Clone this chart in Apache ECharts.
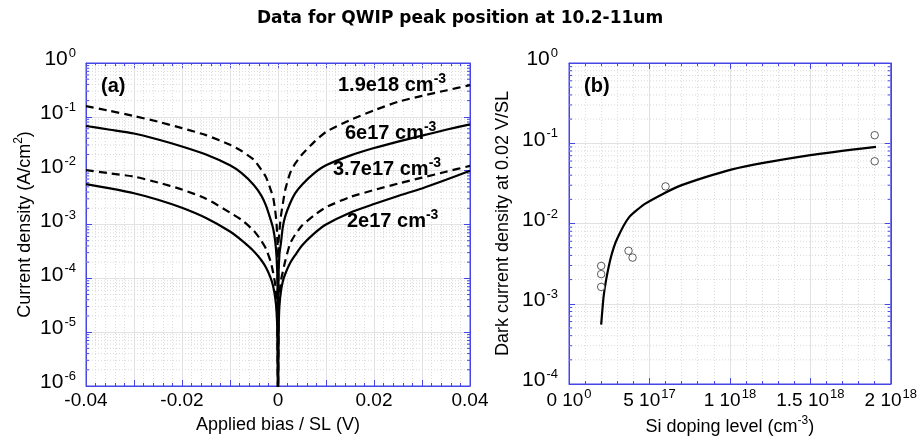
<!DOCTYPE html>
<html>
<head>
<meta charset="utf-8">
<script src="https://cdn.jsdelivr.net/npm/echarts@6/dist/echarts.min.js"></script>
<style>
  html, body { margin: 0; padding: 0; background: #fff; }
  #chart { width: 920px; height: 444px; }
</style>
</head>
<body>
<div id="chart"></div>
<script>
// (a) applied bias per SL (V), shared by the four J-V curves
const biasV = [-0.04, -0.035, -0.03, -0.025, -0.02, -0.015, -0.01, -0.0075, -0.005, -0.0035, -0.0025, -0.0015, -0.001, -0.0006, -0.0003, -0.0001, 0,
  0.0001, 0.0003, 0.0006, 0.001, 0.0015, 0.0025, 0.0035, 0.005, 0.0075, 0.01, 0.015, 0.02, 0.025, 0.03, 0.035, 0.04]
// log10 of current density (A/cm2); the 0 V point sits just under the axis floor
const logJ19e18 = [-0.80, -0.89, -0.985, -1.09, -1.21, -1.34, -1.52, -1.64, -1.80, -1.98, -2.12, -2.36, -2.50, -2.73, -2.98, -3.4, -6.3,
  -3.35, -3.12, -2.85, -2.62, -2.36, -2.05, -1.88, -1.70, -1.47, -1.28, -1.06, -0.88, -0.72, -0.61, -0.51, -0.41]
const logJ6e17 = [-1.17, -1.24, -1.31, -1.42, -1.55, -1.70, -1.90, -2.05, -2.27, -2.46, -2.65, -2.92, -3.08, -3.30, -3.60, -4.1, -6.3,
  -4.0, -3.55, -3.35, -3.05, -2.85, -2.61, -2.43, -2.26, -2.05, -1.90, -1.72, -1.58, -1.46, -1.35, -1.24, -1.14]
const logJ37e17 = [-1.99, -2.05, -2.11, -2.22, -2.35, -2.52, -2.78, -2.92, -3.12, -3.30, -3.45, -3.70, -3.90, -4.1, -4.4, -4.9, -6.3,
  -4.8, -4.35, -4.05, -3.88, -3.68, -3.36, -3.20, -3.02, -2.83, -2.68, -2.49, -2.36, -2.24, -2.13, -2.02, -1.91]
const logJ2e17 = [-2.25, -2.33, -2.42, -2.54, -2.69, -2.88, -3.13, -3.30, -3.50, -3.66, -3.80, -4.00, -4.15, -4.35, -4.62, -5.1, -6.3,
  -5.1, -4.5, -4.25, -4.06, -3.92, -3.72, -3.58, -3.39, -3.17, -3.00, -2.78, -2.62, -2.47, -2.33, -2.17, -2.00]

// (b) dark current at 0.02 V/SL vs Si doping
const fitDoping = [2.0e17, 2.15e17, 2.31e17, 2.62e17, 3.0e17, 3.74e17, 4.77e17, 6.81e17, 1.008e18, 1.5e18, 1.908e18]
const fitJ = [5.5e-4, 1.23e-3, 2.0e-3, 3.9e-3, 6.5e-3, 1.2e-2, 1.78e-2, 2.9e-2, 4.7e-2, 7.1e-2, 9.0e-2]
const measDoping = [2e17, 2e17, 2e17, 3.7e17, 3.95e17, 6e17, 1.9e18, 1.9e18]
const measJ = [2.96e-3, 2.34e-3, 1.62e-3, 4.57e-3, 3.76e-3, 2.9e-2, 0.126, 0.0596]

const FONT = 'Liberation Sans, Arial, sans-serif'
const BLUE = '#4646e6'
const supRich = {
  b: { fontSize: 21, fontFamily: FONT, color: '#000', lineHeight: 22, verticalAlign: 'bottom' },
  s: { fontSize: 13, fontFamily: FONT, color: '#000', lineHeight: 14, verticalAlign: 'bottom', padding: [0, 0, 10, 1] }
}
const nameRich = {
  n: { fontSize: 18, fontFamily: FONT, color: '#000', lineHeight: 20, verticalAlign: 'bottom' },
  s: { fontSize: 12, fontFamily: FONT, color: '#000', lineHeight: 13, verticalAlign: 'bottom', padding: [0, 0, 9, 0] }
}

function pair (xs, ys, isLog) {
  return xs.map((x, i) => [x, isLog ? Math.pow(10, ys[i]) : ys[i]])
}

function logLabel (v) {
  const e = Math.round(Math.log10(v))
  return '{b|10}{s|' + e + '}'
}

// minor grid values 2..9 per decade for the log axes (decoration only)
function minorDecades (lo, hi, x) {
  const out = []
  for (let e = lo; e < hi; e++) {
    for (let k = 2; k <= 9; k++) out.push([x, k * Math.pow(10, e)])
  }
  return out
}

function minorLogRender (params, api) {
  const cs = params.coordSys
  const y = api.coord([api.value(0), api.value(1)])[1]
  return {
    type: 'group',
    children: [
      { type: 'line', shape: { x1: cs.x, y1: y, x2: cs.x + cs.width, y2: y }, style: { stroke: '#d9d9d9', lineWidth: 1, lineDash: [1, 2] } },
      { type: 'line', shape: { x1: cs.x, y1: y, x2: cs.x + 3, y2: y }, style: { stroke: BLUE, lineWidth: 1 } },
      { type: 'line', shape: { x1: cs.x + cs.width - 3, y1: y, x2: cs.x + cs.width, y2: y }, style: { stroke: BLUE, lineWidth: 1 } }
    ]
  }
}

function frameAxis (extra) {
  return Object.assign({
    axisLine: { show: true, onZero: false, lineStyle: { color: BLUE, width: 1 } },
    axisTick: { show: true, inside: true, length: 6, lineStyle: { color: BLUE } },
    minorTick: { show: false },
    splitLine: { show: false },
    axisLabel: { show: false }
  }, extra)
}

function annRich () {
  return {
    b: { fontSize: 20, fontWeight: 'bold', fontFamily: FONT, color: '#000', lineHeight: 21, verticalAlign: 'bottom' },
    s: { fontSize: 14, fontWeight: 'bold', fontFamily: FONT, color: '#000', lineHeight: 15, verticalAlign: 'bottom', padding: [0, 0, 9, 0] }
  }
}

const majorSplit = { show: true, lineStyle: { color: '#e2e2e2', width: 1 } }
const minorSplit = { show: true, lineStyle: { color: '#dddddd', width: 1, type: [1, 2] } }
const curveLine = (dashed) => ({ color: '#000', width: 2.2, type: dashed ? [8, 5] : 'solid' })

const chart = echarts.init(document.getElementById('chart'), null, { renderer: 'canvas' })

const option = {
  animation: false,
  backgroundColor: '#ffffff',
  title: {
    text: 'Data for QWIP peak position at 10.2-11um',
    left: 'center',
    top: 5,
    textStyle: { fontFamily: 'DejaVu Sans', fontSize: 17, fontWeight: 'bold', color: '#000' }
  },
  grid: [
    { left: 86, top: 63, width: 384, height: 323, show: true, borderColor: BLUE, borderWidth: 1 },
    { left: 569, top: 63, width: 326, height: 321, show: true, borderColor: BLUE, borderWidth: 1 }
  ],
  xAxis: [
    frameAxis({
      gridIndex: 0, type: 'value', min: -0.04, max: 0.04, interval: 0.01,
      minorTick: { show: true, splitNumber: 5, length: 3, lineStyle: { color: BLUE } },
      splitLine: majorSplit,
      minorSplitLine: minorSplit,
      axisLabel: {
        show: true, margin: 5, fontFamily: FONT, fontSize: 19, color: '#000',
        formatter: v => {
          if (Math.abs(v) < 1e-9) return '0'
          if (Math.abs(v * 50 - Math.round(v * 50)) > 1e-6) return ''
          return v.toFixed(2)
        }
      },
      name: 'Applied bias / SL (V)',
      nameLocation: 'middle',
      nameGap: 30,
      nameTextStyle: { fontFamily: FONT, fontSize: 18, color: '#000' }
    }),
    frameAxis({
      gridIndex: 0, type: 'value', position: 'top', min: -0.04, max: 0.04, interval: 0.01,
      minorTick: { show: true, splitNumber: 5, length: 3, lineStyle: { color: BLUE } }
    }),
    frameAxis({
      gridIndex: 1, type: 'value', min: 0, max: 2e18, interval: 5e17,
      minorTick: { show: true, splitNumber: 5, length: 3, lineStyle: { color: BLUE } },
      splitLine: majorSplit,
      minorSplitLine: minorSplit,
      axisLabel: {
        show: true, margin: 6,
        rich: {
          b: { fontSize: 19, fontFamily: FONT, color: '#000', lineHeight: 20, verticalAlign: 'bottom' },
          s: { fontSize: 13, fontFamily: FONT, color: '#000', lineHeight: 14, verticalAlign: 'bottom', padding: [0, 0, 9, 1] }
        },
        formatter: v => {
          if (v === 0) return '{b|0 10}{s|0}'
          const e = Math.floor(Math.log10(v) + 1e-9)
          const m = Math.round(v / Math.pow(10, e) * 10) / 10
          return '{b|' + m + ' 10}{s|' + e + '}'
        }
      },
      name: '{n|Si doping level (cm}{s|-3}{n|)}',
      nameLocation: 'middle',
      nameGap: 32,
      nameTextStyle: { rich: nameRich }
    }),
    frameAxis({
      gridIndex: 1, type: 'value', position: 'top', min: 0, max: 2e18, interval: 5e17,
      minorTick: { show: true, splitNumber: 5, length: 3, lineStyle: { color: BLUE } }
    })
  ],
  yAxis: [
    frameAxis({
      gridIndex: 0, type: 'log', logBase: 10, min: 1e-6, max: 1, splitNumber: 6,
      splitLine: majorSplit,
      axisLabel: { show: true, margin: 10, padding: [0, 0, 8, 0], rich: supRich, formatter: logLabel },
      name: '{n|Current density (A/cm}{s|2}{n|)}',
      nameLocation: 'middle',
      nameGap: 52,
      nameTextStyle: { rich: nameRich }
    }),
    frameAxis({ gridIndex: 0, type: 'log', logBase: 10, position: 'right', min: 1e-6, max: 1, splitNumber: 6 }),
    frameAxis({
      gridIndex: 1, type: 'log', logBase: 10, min: 1e-4, max: 1, splitNumber: 4,
      splitLine: majorSplit,
      axisLabel: { show: true, margin: 11, padding: [0, 0, 8, 0], rich: supRich, formatter: logLabel },
      name: 'Dark current density at 0.02 V/SL',
      nameLocation: 'middle',
      nameGap: 57,
      nameTextStyle: { fontFamily: FONT, fontSize: 18, color: '#000' }
    }),
    frameAxis({ gridIndex: 1, type: 'log', logBase: 10, position: 'right', min: 1e-4, max: 1, splitNumber: 4 })
  ],
  series: [
    { type: 'custom', xAxisIndex: 0, yAxisIndex: 0, z: 1, silent: true, renderItem: minorLogRender, data: minorDecades(-6, 0, 0) },
    { type: 'custom', xAxisIndex: 2, yAxisIndex: 2, z: 1, silent: true, renderItem: minorLogRender, data: minorDecades(-4, 0, 1e18) },
    { name: '1.9e18', type: 'line', xAxisIndex: 0, yAxisIndex: 0, showSymbol: false, z: 3, smooth: 0.2,
      lineStyle: curveLine(true), data: pair(biasV, logJ19e18, true) },
    { name: '6e17', type: 'line', xAxisIndex: 0, yAxisIndex: 0, showSymbol: false, z: 3, smooth: 0.2,
      lineStyle: curveLine(false), data: pair(biasV, logJ6e17, true) },
    { name: '3.7e17', type: 'line', xAxisIndex: 0, yAxisIndex: 0, showSymbol: false, z: 3, smooth: 0.2,
      lineStyle: curveLine(true), data: pair(biasV, logJ37e17, true) },
    { name: '2e17', type: 'line', xAxisIndex: 0, yAxisIndex: 0, showSymbol: false, z: 3, smooth: 0.2,
      lineStyle: curveLine(false), data: pair(biasV, logJ2e17, true) },
    { name: 'fit', type: 'line', xAxisIndex: 2, yAxisIndex: 2, showSymbol: false, smooth: 0.2, z: 3,
      lineStyle: curveLine(false), data: pair(fitDoping, fitJ, false) },
    { name: 'measured', type: 'scatter', xAxisIndex: 2, yAxisIndex: 2, symbol: 'circle', symbolSize: 7.5, z: 4,
      itemStyle: { color: '#fff', borderColor: '#333', borderWidth: 1 }, data: pair(measDoping, measJ, false) }
  ],
  graphic: [
    { type: 'text', left: 101, top: 76, z: 10, style: { text: '(a)', font: 'bold 20px ' + FONT, fill: '#000' } },
    { type: 'text', left: 584, top: 76, z: 10, style: { text: '(b)', font: 'bold 20px ' + FONT, fill: '#000' } },
    { type: 'text', left: 338, top: 72, z: 10, style: { text: '{b|1.9e18 cm}{s|-3}', rich: annRich() } },
    { type: 'text', left: 345, top: 120, z: 10, style: { text: '{b|6e17 cm}{s|-3}', rich: annRich() } },
    { type: 'text', left: 333, top: 156, z: 10, style: { text: '{b|3.7e17 cm}{s|-3}', rich: annRich() } },
    { type: 'text', left: 347, top: 208, z: 10, style: { text: '{b|2e17 cm}{s|-3}', rich: annRich() } }
  ]
}

chart.setOption(option)
</script>
</body>
</html>
